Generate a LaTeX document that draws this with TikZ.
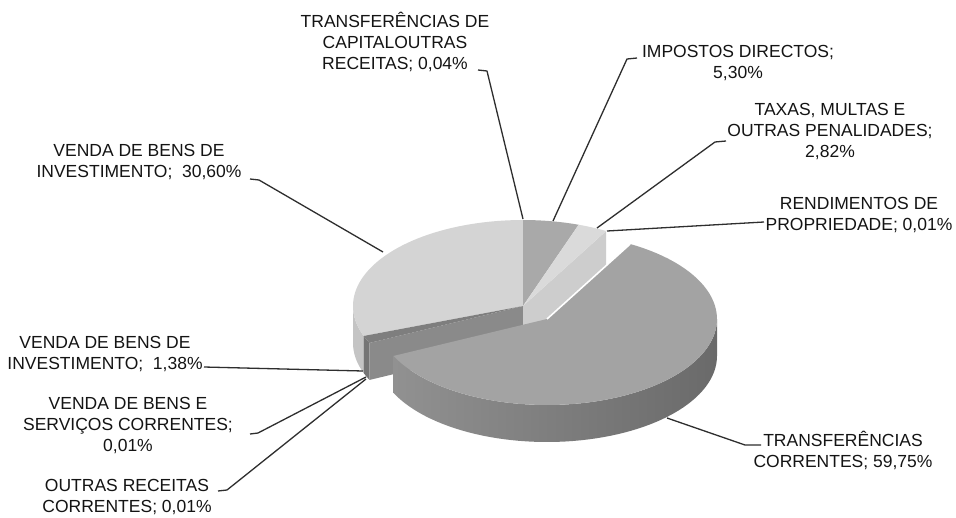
\documentclass[tikz,border=0pt]{standalone}
\usepackage{fontspec}
\setmainfont{Liberation Sans}
\usetikzlibrary{calc}
\newcommand{\mystrut}{\rule[-4.5pt]{0pt}{20.5pt}}
\definecolor{wlight}{HTML}{D4D4D4}
\definecolor{wlightside}{HTML}{C4C4C4}
\definecolor{wimp}{HTML}{A9A9A9}
\definecolor{wtax}{HTML}{DADADA}
\definecolor{wtaxside}{HTML}{CDCDCD}
\definecolor{wdark}{HTML}{8A8A8A}
\definecolor{wdarktop}{HTML}{7E7E7E}
\definecolor{wtc}{HTML}{A3A3A3}
\definecolor{wtcsideL}{HTML}{919191}
\definecolor{wtcsideR}{HTML}{6A6A6A}
\begin{document}
\begin{tikzpicture}[x=1pt,y=-1pt,
  lab/.style={font=\fontsize{17.5}{20.8}\selectfont, align=center, inner sep=0pt, anchor=north, text=black!92},
  leader/.style={draw=black!82, line width=1.3pt, line join=round}]
\useasboundingbox (0,0) rectangle (956,517);
\fill[white] (0,0) rectangle (956,517);
\def\pcx{523}\def\pcy{306}\def\prx{170}\def\pry{86}\def\pdh{37}
\def\pex{547}\def\pey{319}
% ---- unexploded part: outer side faces
\fill[wlightside] plot[domain=249.61:270,samples=20] ({\pcx+\prx*sin(\x)},{\pcy-\pry*cos(\x)})
  -- plot[domain=270:249.61,samples=20] ({\pcx+\prx*sin(\x)},{\pcy+\pdh-\pry*cos(\x)}) -- cycle;
\fill[wdark!85!black] plot[domain=244.56:249.61,samples=8] ({\pcx+\prx*sin(\x)},{\pcy-\pry*cos(\x)})
  -- plot[domain=249.61:244.56,samples=8] ({\pcx+\prx*sin(\x)},{\pcy+\pdh-\pry*cos(\x)}) -- cycle;
% ---- radial cut faces
\fill[wdark] (\pcx,\pcy) -- ({\pcx+\prx*sin(244.56)},{\pcy-\pry*cos(244.56)})
  -- ({\pcx+\prx*sin(244.56)},{\pcy+\pdh-\pry*cos(244.56)}) -- (\pcx,\pcy+\pdh) -- cycle;
\fill[wtaxside] (\pcx,\pcy) -- ({\pcx+\prx*sin(29.29)},{\pcy-\pry*cos(29.29)})
  -- ({\pcx+\prx*sin(29.29)},{\pcy+\pdh-\pry*cos(29.29)}) -- (\pcx,\pcy+\pdh) -- cycle;
% ---- top faces of unexploded wedges
\fill[wlight] (\pcx,\pcy) -- plot[domain=249.61:360,samples=50] ({\pcx+\prx*sin(\x)},{\pcy-\pry*cos(\x)}) -- cycle;
\fill[wdarktop] (\pcx,\pcy) -- plot[domain=244.56:249.61,samples=8] ({\pcx+\prx*sin(\x)},{\pcy-\pry*cos(\x)}) -- cycle;
\fill[wimp] (\pcx,\pcy) -- plot[domain=0:19.10,samples=12] ({\pcx+\prx*sin(\x)},{\pcy-\pry*cos(\x)}) -- cycle;
\fill[wtax] (\pcx,\pcy) -- plot[domain=19.10:29.29,samples=8] ({\pcx+\prx*sin(\x)},{\pcy-\pry*cos(\x)}) -- cycle;
% ---- exploded slice (TRANSFERENCIAS CORRENTES)
\shade[left color=wtcsideL, right color=wtcsideR]
  plot[domain=90:244.56,samples=60] ({\pex+\prx*sin(\x)},{\pey-\pry*cos(\x)})
  -- plot[domain=244.56:90,samples=60] ({\pex+\prx*sin(\x)},{\pey+\pdh-\pry*cos(\x)}) -- cycle;
\fill[wtc] (\pex,\pey) -- plot[domain=29.29:244.56,samples=80] ({\pex+\prx*sin(\x)},{\pey-\pry*cos(\x)}) -- cycle;
\draw[white, line width=1.6pt] (\pex,\pey) -- ({\pex+\prx*sin(29.29)},{\pey-\pry*cos(29.29)});
% ---- pie points for the leaders
\coordinate (p1) at (523,219);
\coordinate (p2) at (553,221);
\coordinate (p3) at (597,228);
\coordinate (p4) at (607,231);
\coordinate (p5) at (383,252);
\coordinate (p6) at (363,371);
\coordinate (p7) at (366,377);
\coordinate (p8) at (366,379);
\coordinate (p9) at (667,418);
% ---- labels
\node[lab] (l1) at (395,11.3) {\mystrut TRANSFERÊNCIAS DE\\\mystrut CAPITALOUTRAS\\\mystrut RECEITAS; 0,04\%};
\node[lab] (l2) at (738,41.3) {\mystrut IMPOSTOS DIRECTOS;\\\mystrut 5,30\%};
\node[lab] (l3) at (830,99.3) {\mystrut TAXAS, MULTAS E\\\mystrut OUTRAS PENALIDADES;\\\mystrut 2,82\%};
\node[lab] (l4) at (859,193.3) {\mystrut RENDIMENTOS DE\\\mystrut PROPRIEDADE; 0,01\%};
\node[lab] (l5) at (139,140.3) {\mystrut VENDA DE BENS DE\\\mystrut INVESTIMENTO;\ \ 30,60\%};
\node[lab] (l6) at (105,332.3) {\mystrut VENDA DE BENS DE\\\mystrut INVESTIMENTO;\ \ 1,38\%};
\node[lab] (l7) at (128,393.3) {\mystrut VENDA DE BENS E\\\mystrut SERVIÇOS CORRENTES;\\\mystrut 0,01\%};
\node[lab] (l8) at (127,475.3) {\mystrut OUTRAS RECEITAS\\\mystrut CORRENTES; 0,01\%};
\node[lab] (l9) at (843,430.3) {\mystrut TRANSFERÊNCIAS\\\mystrut CORRENTES; 59,75\%};
% ---- leader start points next to the label texts
\coordinate (a1) at (478,70);
\coordinate (a2) at (637,58);
\coordinate (a3) at (726,141);
\coordinate (a4) at (764,222);
\coordinate (a5) at (250,179);
\coordinate (a6) at (204,367);
\coordinate (a7) at (250,434);
\coordinate (a8) at (218,491);
\coordinate (a9) at (761,445);
% ---- leaders
\draw[leader] (a1) -- (487,71) -- (p1);
\draw[leader] (a2) -- (627,59) -- (p2);
\draw[leader] (a3) -- (715,142) -- (p3);
\draw[leader] (a4) -- (p4);
\draw[leader] (a5) -- (259,180) -- (p5);
\draw[leader] (a6) -- (p6);
\draw[leader] (a7) -- (258,433) -- (p7);
\draw[leader] (a8) -- (227,490) -- (p8);
\draw[leader] (a9) -- (745,445) -- (p9);
\end{tikzpicture}
\end{document}
